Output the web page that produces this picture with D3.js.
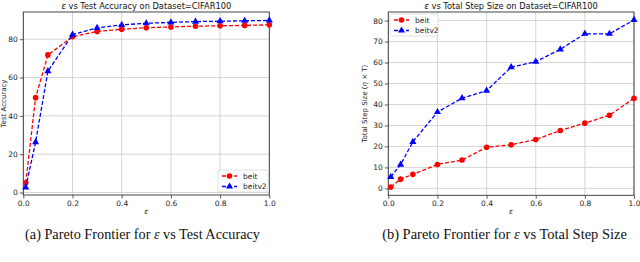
<!DOCTYPE html>
<html><head><meta charset="utf-8">
<script src="https://cdn.jsdelivr.net/npm/d3@7"></script>
<style>body{margin:0;background:#fff}svg{display:block}</style>
</head><body>
<svg id="c" width="640" height="262"></svg>
<script>
const eps = [0.01, 0.05, 0.1, 0.2, 0.3, 0.4, 0.5, 0.6, 0.7, 0.8, 0.9, 1.0];
const accBeit = [5.1, 49.5, 71.8, 81.3, 84.0, 85.2, 86.0, 86.4, 86.8, 87.0, 87.2, 87.5];
const accBeitv2 = [2.7, 26.3, 63.3, 82.4, 85.9, 87.5, 88.3, 88.8, 89.2, 89.4, 89.6, 89.8];
const stepBeit = [0.6, 4.4, 6.7, 11.4, 13.5, 19.6, 20.8, 23.3, 27.6, 31.1, 34.9, 42.9];
const stepBeitv2 = [5.5, 11.3, 22.2, 36.4, 43.0, 46.6, 57.8, 60.4, 66.3, 73.7, 73.7, 80.3];
const xTicks = [0.0, 0.2, 0.4, 0.6, 0.8, 1.0];
const accTicks = [0, 20, 40, 60, 80];
const stepTicks = [0, 10, 20, 30, 40, 50, 60, 70, 80];
const seriesNames = ["beit", "beitv2"];
const colors = ["#ff0000", "#0000ff"];

const svg = d3.select("#c");
const tickFont = "DejaVu Sans";

function fitWidth(sel, base, target) {
  const w = sel.node().getComputedTextLength();
  if (w > 0) sel.attr("font-size", base * target / w);
}

function panel(cfg) {
  const x = d3.scaleLinear().domain([0, 1]).range([cfg.x0, cfg.x1]);
  const y = d3.scaleLinear().domain(cfg.ydom).range([cfg.y0, cfg.y1]);
  const g = svg.append("g");
  g.append("g").selectAll("line").data(xTicks).join("line")
    .attr("x1", d => x(d)).attr("x2", d => x(d)).attr("y1", cfg.y0).attr("y2", cfg.y1)
    .attr("stroke", "#d0d0d0").attr("stroke-width", 0.9);
  g.append("g").selectAll("line").data(cfg.yticks).join("line")
    .attr("y1", d => y(d)).attr("y2", d => y(d)).attr("x1", cfg.x0).attr("x2", cfg.x1)
    .attr("stroke", "#d0d0d0").attr("stroke-width", 0.9);
  const xa = g.append("g").attr("transform", `translate(0,${cfg.y0})`)
    .call(d3.axisBottom(x).tickValues(xTicks).tickFormat(d3.format(".1f")).tickSize(3.5).tickPadding(2));
  const ya = g.append("g").attr("transform", `translate(${cfg.x0},0)`)
    .call(d3.axisLeft(y).tickValues(cfg.yticks).tickFormat(d3.format("d")).tickSize(3.5).tickPadding(2));
  [xa, ya].forEach(a => {
    a.select(".domain").remove();
    a.selectAll("text").attr("font-family", tickFont).attr("font-size", 7.5).attr("fill", "#222");
    a.selectAll("line").attr("stroke", "#333").attr("stroke-width", 0.8);
  });
  g.append("rect").attr("x", cfg.x0).attr("y", cfg.y1).attr("width", cfg.x1 - cfg.x0).attr("height", cfg.y0 - cfg.y1)
    .attr("fill", "none").attr("stroke", "#333").attr("stroke-width", 0.9);
  const clip = "clip" + cfg.id;
  svg.append("clipPath").attr("id", clip).append("rect")
    .attr("x", cfg.x0 - 5).attr("y", cfg.y1 - 5).attr("width", cfg.x1 - cfg.x0 + 10).attr("height", cfg.y0 - cfg.y1 + 10);
  const line = d3.line().x(d => x(d[0])).y(d => y(d[1]));
  cfg.series.forEach((vals, i) => {
    const pts = eps.map((e, j) => [e, vals[j]]);
    const sg = g.append("g").attr("clip-path", `url(#${clip})`);
    sg.append("path").attr("d", line(pts)).attr("fill", "none").attr("stroke", colors[i])
      .attr("stroke-width", 1.3).attr("stroke-dasharray", "4,2");
    if (i === 0) {
      sg.selectAll("circle").data(pts).join("circle").attr("cx", d => x(d[0])).attr("cy", d => y(d[1]))
        .attr("r", 2.8).attr("fill", colors[i]);
    } else {
      sg.selectAll("path.m").data(pts).join("path").attr("class", "m")
        .attr("d", d3.symbol(d3.symbolTriangle, 22)())
        .attr("transform", d => `translate(${x(d[0])},${y(d[1])})`).attr("fill", colors[i]);
    }
  });
  const L = cfg.legend;
  const lg = g.append("g");
  lg.append("rect").attr("x", L.x).attr("y", L.y).attr("width", L.w).attr("height", L.h).attr("rx", 2)
    .attr("fill", "#fff").attr("fill-opacity", 0.85).attr("stroke", "#d8d8d8").attr("stroke-width", 0.8);
  seriesNames.forEach((n, i) => {
    const yy = L.y + 6 + i * 10.5;
    lg.append("line").attr("x1", L.x + 4).attr("x2", L.x + 19).attr("y1", yy).attr("y2", yy)
      .attr("stroke", colors[i]).attr("stroke-width", 1.3).attr("stroke-dasharray", "4,2");
    if (i === 0) lg.append("circle").attr("cx", L.x + 11.5).attr("cy", yy).attr("r", 2.8).attr("fill", colors[i]);
    else lg.append("path").attr("d", d3.symbol(d3.symbolTriangle, 22)()).attr("transform", `translate(${L.x + 11.5},${yy})`).attr("fill", colors[i]);
    lg.append("text").attr("x", L.x + 25).attr("y", yy + 2.7).text(n)
      .attr("font-family", tickFont).attr("font-size", 7.5).attr("fill", "#222");
  });
  const t = g.append("text").attr("x", (cfg.x0 + cfg.x1) / 2).attr("y", 8.5).attr("text-anchor", "middle")
    .attr("font-family", tickFont).attr("font-size", 8).attr("fill", "#111");
  t.append("tspan").attr("font-style", "italic").text("ε");
  t.append("tspan").text(cfg.title);
  fitWidth(t, 8, cfg.titleW);
  g.append("text").attr("x", (cfg.x0 + cfg.x1) / 2).attr("y", 214).attr("text-anchor", "middle")
    .attr("font-family", tickFont).attr("font-style", "italic").attr("font-size", 7.5).attr("fill", "#222").text("ε");
  const yl = g.append("text").attr("transform", `translate(${cfg.ylx},${(cfg.y0 + cfg.y1) / 2}) rotate(-90)`)
    .attr("text-anchor", "middle").attr("font-family", tickFont).attr("font-size", 7).attr("fill", "#222");
  cfg.ylabel(yl);
  const cap = svg.append("text").attr("x", cfg.capx).attr("y", 238.5).attr("text-anchor", "middle")
    .attr("font-family", "Liberation Serif").attr("font-size", 12.5).attr("fill", "#111");
  cap.append("tspan").text(cfg.cap1);
  cap.append("tspan").attr("font-style", "italic").text("ε");
  cap.append("tspan").text(cfg.cap2);
  fitWidth(cap, 12.5, cfg.capW);
}

panel({
  id: "a", x0: 23.3, x1: 269.3, y0: 195, y1: 12, ydom: [-1.3, 94.2], yticks: accTicks,
  series: [accBeit, accBeitv2], title: " vs Test Accuracy on Dataset=CIFAR100", titleW: 170,
  legend: { x: 218, y: 170, w: 50, h: 22 }, ylx: 6,
  ylabel: t => t.text("Test Accuracy"),
  capx: 142.5, capW: 235, cap1: "(a) Pareto Frontier for ", cap2: " vs Test Accuracy"
});
panel({
  id: "b", x0: 388.3, x1: 634, y0: 195.3, y1: 12, ydom: [-3.3, 84.1], yticks: stepTicks,
  series: [stepBeit, stepBeitv2], title: " vs Total Step Size on Dataset=CIFAR100", titleW: 174,
  legend: { x: 390, y: 14, w: 48, h: 22 }, ylx: 367,
  ylabel: t => { t.append("tspan").text("Total Step Size ("); t.append("tspan").attr("font-style", "italic").text("η"); t.append("tspan").text(" × T)"); },
  capx: 504.5, capW: 245, cap1: "(b) Pareto Frontier for ", cap2: " vs Total Step Size"
});
</script>
</body></html>
